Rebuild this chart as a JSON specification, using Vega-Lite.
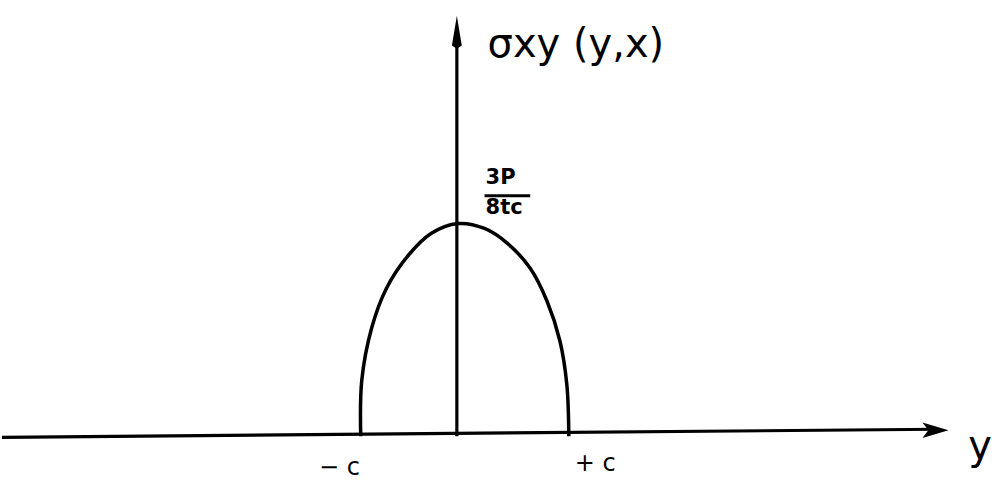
{
  "$schema": "https://vega.github.io/schema/vega-lite/v6.json",
  "width": 992,
  "height": 480,
  "padding": 0,
  "autosize": {"type": "fit", "contains": "padding"},
  "background": "white",
  "config": {"view": {"stroke": null}},
  "datasets": {
    "curve": [
      {"y": -1.0, "tau": 0.0},
      {"y": -0.99, "tau": 0.262},
      {"y": -0.895, "tau": 0.509},
      {"y": -0.752, "tau": 0.696},
      {"y": -0.543, "tau": 0.85},
      {"y": -0.324, "tau": 0.953},
      {"y": -0.067, "tau": 1.0},
      {"y": 0.19, "tau": 0.977},
      {"y": 0.41, "tau": 0.907},
      {"y": 0.629, "tau": 0.79},
      {"y": 0.79, "tau": 0.636},
      {"y": 0.914, "tau": 0.449},
      {"y": 0.981, "tau": 0.243},
      {"y": 1.0, "tau": 0.0}
    ],
    "axes": [
      {"name": "y-axis", "x1": -4.448, "s1": -0.005, "x2": 4.55, "s2": 0.033},
      {"name": "stress-axis", "x1": -0.076, "s1": 0.0, "x2": -0.076, "s2": 1.9},
      {"name": "fraction-bar", "x1": 0.19, "s1": 1.131, "x2": 0.629, "s2": 1.131}
    ],
    "labels": [
      {"text": "σxy (y,x)", "u": 0.219, "s": 1.785, "kind": "title"},
      {"text": "3P", "u": 0.2, "s": 1.187, "kind": "small"},
      {"text": "8tc", "u": 0.2, "s": 1.047, "kind": "small"},
      {"text": "− c", "u": -1.4, "s": -0.182, "kind": "tick"},
      {"text": "+ c", "u": 1.057, "s": -0.164, "kind": "tick"},
      {"text": "y", "u": 4.838, "s": -0.107, "kind": "title"}
    ]
  },
  "layer": [
    {
      "data": {"name": "axes"},
      "mark": {"type": "rule", "color": "black", "strokeWidth": 3.2},
      "encoding": {
        "x": {"field": "x1", "type": "quantitative", "scale": {"domain": [-4.4476, 5.0], "nice": false, "zero": false}, "axis": null},
        "y": {"field": "s1", "type": "quantitative", "scale": {"domain": [-0.1916, 2.0514], "nice": false, "zero": false}, "axis": null},
        "x2": {"field": "x2"},
        "y2": {"field": "s2"}
      }
    },
    {
      "data": {"name": "curve"},
      "mark": {"type": "line", "color": "black", "strokeWidth": 3.5, "interpolate": "catmull-rom"},
      "encoding": {
        "x": {"field": "y", "type": "quantitative"},
        "y": {"field": "tau", "type": "quantitative"}
      }
    },
    {
      "data": {"values": [{"u": -0.076, "s": 1.9}]},
      "mark": {"type": "point", "filled": true, "color": "black", "opacity": 1, "size": 1089, "shape": "M0,-1L0.3,0.8L0,1L-0.3,0.8Z"},
      "encoding": {
        "x": {"field": "u", "type": "quantitative"},
        "y": {"field": "s", "type": "quantitative"}
      }
    },
    {
      "data": {"values": [{"u": 4.524, "s": 0.028}]},
      "mark": {"type": "point", "filled": true, "color": "black", "opacity": 1, "size": 676, "shape": "M1,0L-1,-0.6L-0.55,0L-1,0.6Z"},
      "encoding": {
        "x": {"field": "u", "type": "quantitative"},
        "y": {"field": "s", "type": "quantitative"}
      }
    },
    {
      "data": {"name": "labels"},
      "transform": [{"filter": "datum.kind === 'title'"}],
      "mark": {"type": "text", "align": "left", "baseline": "alphabetic", "fontSize": 40, "font": "DejaVu Sans", "color": "black"},
      "encoding": {
        "x": {"field": "u", "type": "quantitative"},
        "y": {"field": "s", "type": "quantitative"},
        "text": {"field": "text"}
      }
    },
    {
      "data": {"name": "labels"},
      "transform": [{"filter": "datum.kind === 'small'"}],
      "mark": {"type": "text", "align": "left", "baseline": "alphabetic", "fontSize": 21, "font": "DejaVu Sans", "fontWeight": "bold", "color": "black"},
      "encoding": {
        "x": {"field": "u", "type": "quantitative"},
        "y": {"field": "s", "type": "quantitative"},
        "text": {"field": "text"}
      }
    },
    {
      "data": {"name": "labels"},
      "transform": [{"filter": "datum.kind === 'tick'"}],
      "mark": {"type": "text", "align": "left", "baseline": "alphabetic", "fontSize": 24, "font": "DejaVu Sans", "color": "black"},
      "encoding": {
        "x": {"field": "u", "type": "quantitative"},
        "y": {"field": "s", "type": "quantitative"},
        "text": {"field": "text"}
      }
    }
  ]
}
